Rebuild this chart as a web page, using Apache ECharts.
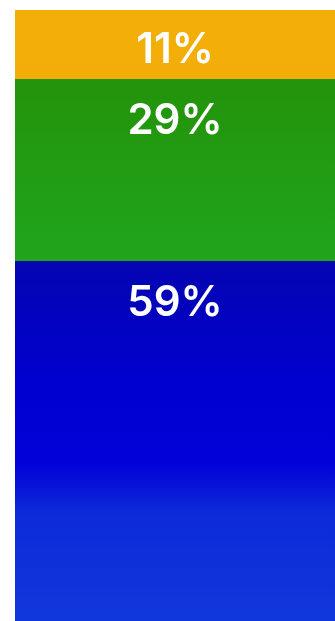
<!DOCTYPE html>
<html>
<head>
<meta charset="utf-8">
<script src="https://cdn.jsdelivr.net/npm/echarts@6/dist/echarts.min.js"></script>
<style>
html, body { margin: 0; padding: 0; background: #fff; }
#chart { width: 335px; height: 621px; }
</style>
</head>
<body>
<div id="chart"></div>
<script>
const categories = ['share']
const seriesNames = ['A', 'B', 'C']
const seriesValues = [11, 29, 59]

const fills = [
  new echarts.graphic.LinearGradient(0, 0, 0, 1, [
    { offset: 0, color: '#f3ae06' },
    { offset: 1, color: '#f2ad08' }
  ]),
  new echarts.graphic.LinearGradient(0, 0, 0, 1, [
    { offset: 0, color: '#23930a' },
    { offset: 1, color: '#20a51c' }
  ]),
  new echarts.graphic.LinearGradient(0, 0, 0, 1, [
    { offset: 0, color: '#0505b2' },
    { offset: 0.35, color: '#0000d0' },
    { offset: 0.55, color: '#0202d8' },
    { offset: 0.68, color: '#0d2ad9' },
    { offset: 1, color: '#1039dc' }
  ])
]

let chart = echarts.init(document.getElementById('chart'))
let chartOpt = {
  animation: false,
  // bar runs a little past the bottom edge, so let the grid overflow
  grid: { left: 15, right: 0, top: 10, height: 621, outerBoundsMode: 'none' },
  xAxis: {
    type: 'category',
    data: categories,
    show: false
  },
  yAxis: {
    type: 'value',
    inverse: true,
    min: 0,
    max: 99,
    show: false
  },
  series: seriesNames.map((name, i) => ({
    name: name,
    type: 'bar',
    stack: 'total',
    barWidth: '100%',
    data: [seriesValues[i]],
    itemStyle: { color: fills[i] },
    label: {
      show: true,
      position: 'insideTop',
      distance: i === 0 ? 19 : 21,
      formatter: '{c}%',
      color: '#fff',
      fontFamily: 'Inter',
      fontWeight: 600,
      fontSize: 42
    }
  }))
}

chart.setOption(chartOpt)
</script>
</body>
</html>
